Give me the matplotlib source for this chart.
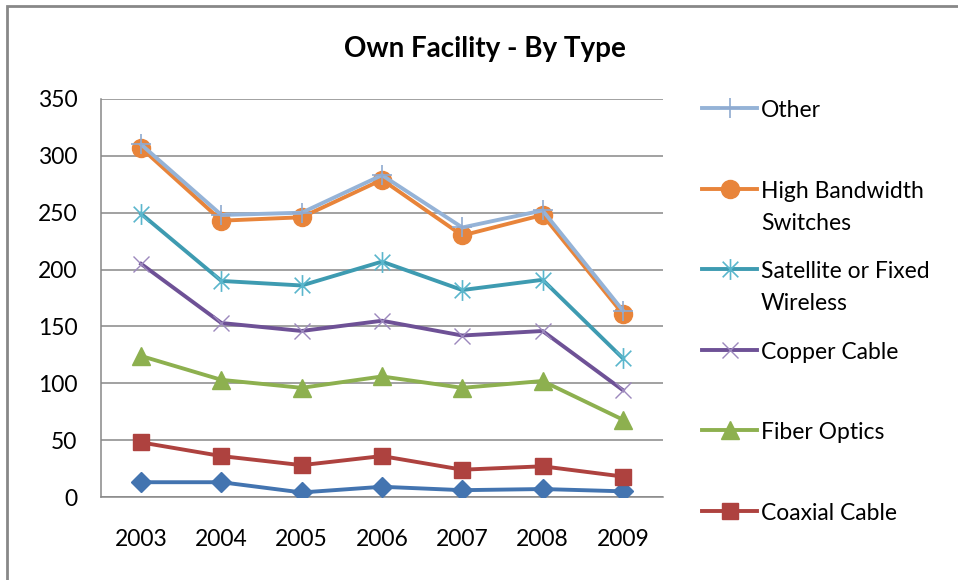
import matplotlib.pyplot as plt
import numpy as np
from matplotlib.lines import Line2D
from matplotlib.patches import Rectangle
from matplotlib.path import Path

# Data
years = ['2003', '2004', '2005', '2006', '2007', '2008', '2009']
other = [310, 248, 250, 283, 237, 252, 164]
high_bandwidth = [307, 243, 246, 279, 230, 248, 161]
satellite = [249, 190, 186, 207, 182, 191, 122]
copper = [205, 153, 146, 155, 142, 146, 94]
fiber = [124, 103, 96, 106, 96, 102, 68]
coaxial = [48, 36, 28, 36, 24, 27, 18]
unlabeled = [13, 13, 4, 9, 6, 7, 5]

labels = ['Other', 'High Bandwidth\nSwitches', 'Satellite or Fixed\nWireless',
          'Copper Cable', 'Fiber Optics', 'Coaxial Cable']

plt.rcParams['font.family'] = ['Lato', 'DejaVu Sans']

# asterisk marker: vertical bar plus an X
star = Path([(0, -1), (0, 1), (-0.75, -0.75), (0.75, 0.75), (-0.75, 0.75), (0.75, -0.75)],
            [Path.MOVETO, Path.LINETO, Path.MOVETO, Path.LINETO, Path.MOVETO, Path.LINETO])

# (values, line colour, marker, marker colour, marker size, marker edge width)
styles = [
    (other, '#95B3D7', '+', '#8FAAD0', 15, 1.2),
    (high_bandwidth, '#E8843A', 'o', '#E8843A', 13, 1.0),
    (satellite, '#3E9BB1', star, '#5AB6CC', 15, 1.2),
    (copper, '#6E5196', 'x', '#9C88BD', 12, 1.0),
    (fiber, '#8DB04F', '^', '#8DB04F', 13, 1.0),
    (coaxial, '#AE423F', 's', '#AE423F', 12, 1.0),
]

fig = plt.figure(figsize=(9.58, 5.8), dpi=100)
ax = fig.add_axes([101 / 958, 1 - 497 / 580, 562 / 958, 398 / 580])

x = np.arange(len(years))

# draw from bottom series up so the upper lines sit on top
ax.plot(x, unlabeled, color='#4374B0', lw=2.8, marker='D', ms=10,
        mfc='#4374B0', mec='#4374B0', zorder=3)
for vals, lc, mk, mc, ms, mew in reversed(styles):
    ax.plot(x, vals, color=lc, lw=2.8, marker=mk, ms=ms, mfc=mc, mec=mc,
            mew=mew, zorder=3)

ax.set_xlim(-0.5, len(years) - 0.5)
ax.set_ylim(0, 350)
ax.set_yticks(np.arange(0, 351, 50))
ax.set_xticks(x)
ax.set_xticklabels(years)
ax.tick_params(axis='both', length=0, labelsize=16.5, colors='#000000')
ax.tick_params(axis='y', pad=17)
ax.tick_params(axis='x', pad=23)
ax.yaxis.grid(True, color='#888888', lw=1.1)
ax.set_axisbelow(True)
for side in ['top', 'right']:
    ax.spines[side].set_visible(False)
for side in ['left', 'bottom']:
    ax.spines[side].set_color('#888888')
    ax.spines[side].set_linewidth(1.1)

fig.text(485 / 958, 1 - 49 / 580, 'Own Facility - By Type', ha='center',
         va='center', fontsize=20, fontweight='bold')

# legend, first text line aligned with its key like the original
for i, (vals, lc, mk, mc, ms, mew) in enumerate(styles):
    yk = 1 - (108 + i * 80.6) / 580
    fig.add_artist(Line2D([702 / 958, 757 / 958], [yk, yk], color=lc, lw=2.8,
                          transform=fig.transFigure))
    fig.add_artist(Line2D([729.5 / 958], [yk], marker=mk, ms=ms, mfc=mc, mec=mc,
                          mew=mew, transform=fig.transFigure))
    fig.text(761 / 958, yk + 8 / 580, labels[i], ha='left', va='top',
             fontsize=16.5, linespacing=1.65)

# outer chart border (runs past the right and bottom edges)
fig.add_artist(Rectangle((7 / 958, -0.05), 1.0, 1 - 6 / 580 + 0.05, fill=False,
                         edgecolor='#888888', lw=2, transform=fig.transFigure))

plt.savefig('out.png', dpi=100)
